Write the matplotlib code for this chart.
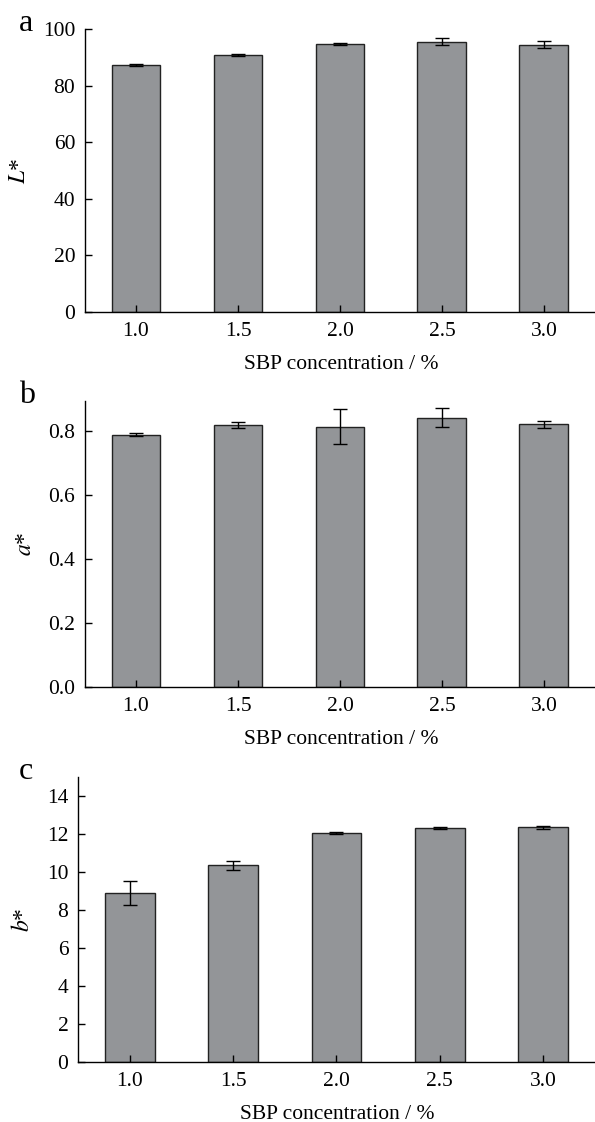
import matplotlib
matplotlib.use('Agg')
import matplotlib.pyplot as plt

plt.rcParams['font.family'] = ['Liberation Serif', 'DejaVu Serif']
plt.rcParams['mathtext.fontset'] = 'stix'

conc = [1.0, 1.5, 2.0, 2.5, 3.0]
conc_labels = ['1.0', '1.5', '2.0', '2.5', '3.0']

L_val = [87.3, 90.9, 94.7, 95.5, 94.4]
L_err = [0.5, 0.4, 0.3, 1.2, 1.2]
a_val = [0.790, 0.820, 0.815, 0.843, 0.822]
a_err = [0.006, 0.010, 0.055, 0.030, 0.010]
b_val = [8.9, 10.35, 12.05, 12.3, 12.35]
b_err = [0.65, 0.25, 0.05, 0.05, 0.08]

W, H = 595, 1122
fig = plt.figure(figsize=(W / 100, H / 100), dpi=100)

panels = [
    # letter, values, errors, ylabel, ylim, yticks, ticklabels, (left, top, bottom) px
    ('a', L_val, L_err, r'$L$*', (0, 100), [0, 20, 40, 60, 80, 100], None, (85, 29, 312)),
    ('b', a_val, a_err, r'$a$*', (0, 0.895), [0, 0.2, 0.4, 0.6, 0.8], ['0.0', '0.2', '0.4', '0.6', '0.8'], (85, 401, 687)),
    ('c', b_val, b_err, r'$b$*', (0, 15), [0, 2, 4, 6, 8, 10, 12, 14], None, (78, 777, 1062)),
]

for letter, vals, errs, ylab, ylim, yt, ytl, (lx, ty, by) in panels:
    ax = fig.add_axes([lx / W, 1 - by / H, (W - lx + 2) / W, (by - ty) / H])
    ax.bar(conc, vals, width=0.24, color='#939598', edgecolor='#222222', linewidth=1.0,
           yerr=errs, capsize=5, error_kw={'elinewidth': 1.0, 'capthick': 1.0, 'ecolor': 'black'})
    ax.set_xlim(0.75, 3.26)
    ax.set_ylim(*ylim)
    ax.set_xticks(conc)
    ax.set_xticklabels(conc_labels)
    ax.set_yticks(yt)
    if ytl:
        ax.set_yticklabels(ytl)
    ax.spines['top'].set_visible(False)
    ax.spines['right'].set_visible(False)
    ax.spines['left'].set_linewidth(1.0)
    ax.spines['bottom'].set_linewidth(1.0)
    ax.tick_params(direction='in', length=5, width=1.0, labelsize=15.5, pad=7)
    ax.set_ylabel(ylab, fontsize=17, labelpad=9)
    ax.set_xlabel('SBP concentration / %', fontsize=15.5, labelpad=10)
    fig.text(19 / W, 1 - (ty + 2) / H, letter, fontsize=23, ha='left', va='baseline')

fig.savefig('out.png', dpi=100)
